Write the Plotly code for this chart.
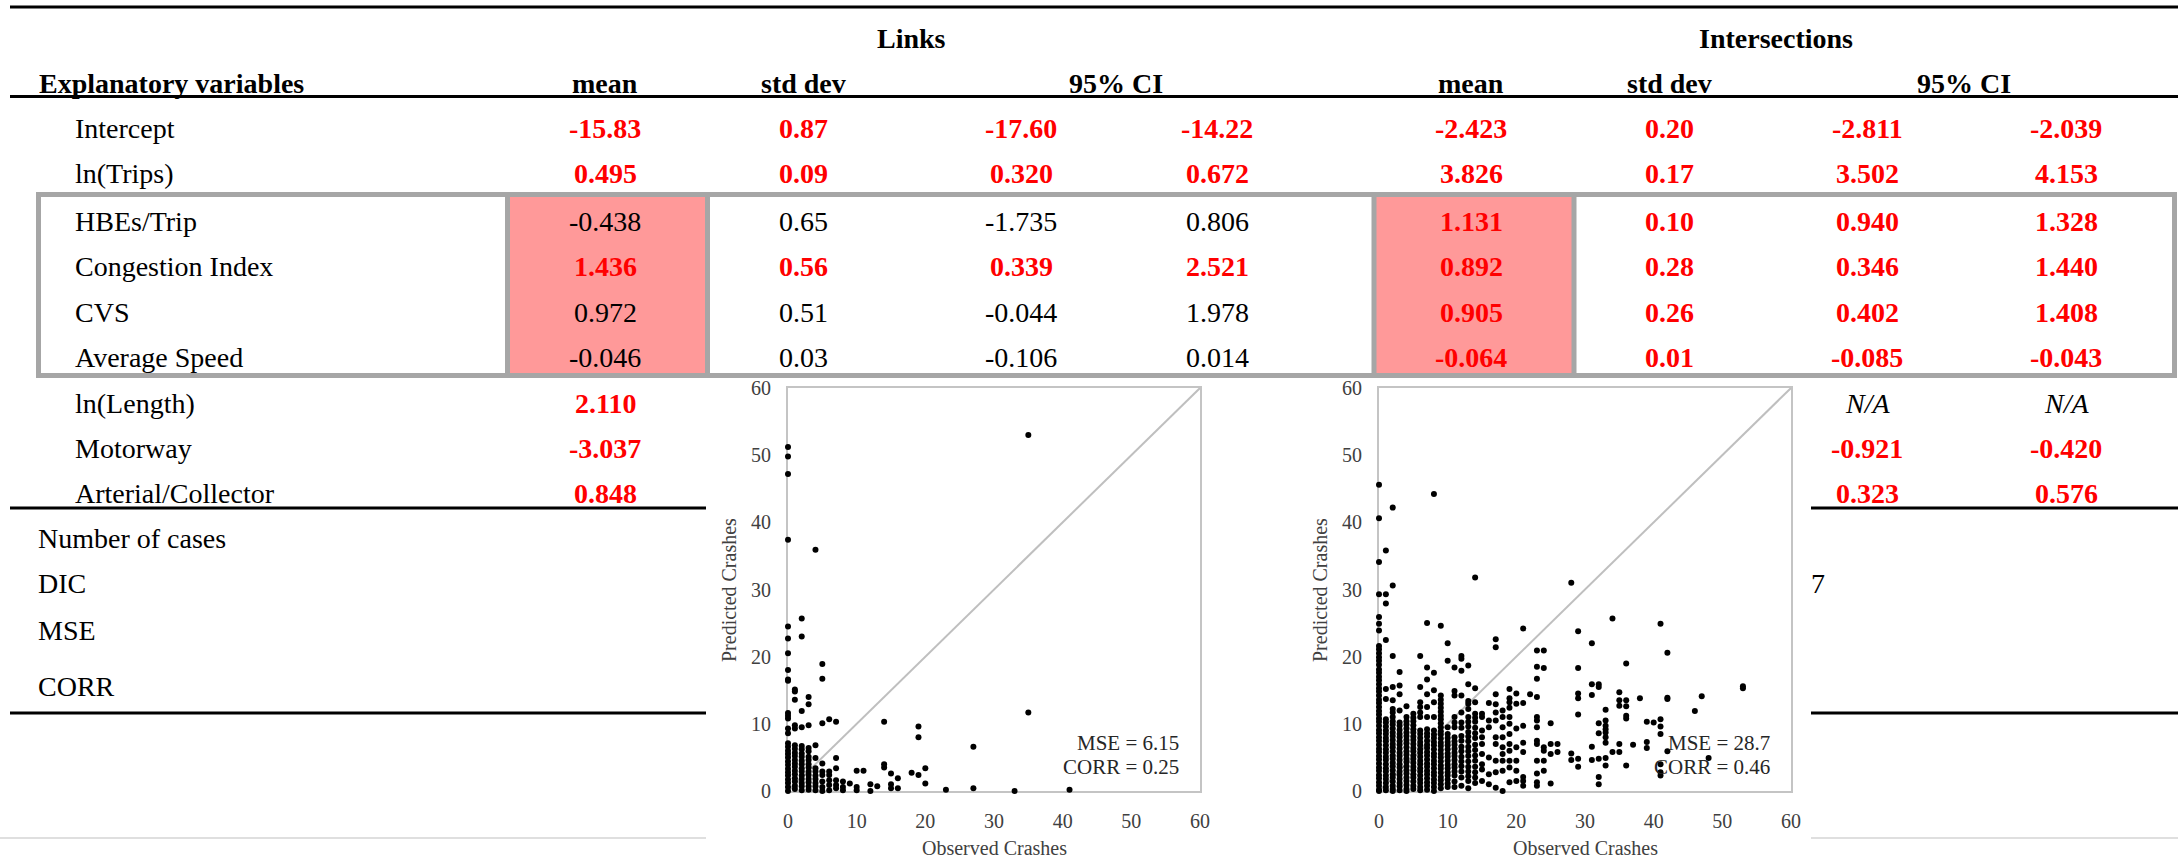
import plotly.graph_objects as go

# ---------------- table data ----------------
variables = ["Intercept", "ln(Trips)", "HBEs/Trip", "Congestion Index", "CVS",
             "Average Speed", "ln(Length)", "Motorway", "Arterial/Collector"]
summary_rows = ["Number of cases", "DIC", "MSE", "CORR"]
col_headers = ["mean", "std dev", "95% CI"]
group_headers = ["Links", "Intersections"]

# None = cell hidden behind the inset scatter plots in the source picture
links_mean = ["-15.83", "0.495", "-0.438", "1.436", "0.972", "-0.046", "2.110", "-3.037", "0.848"]
links_sd   = ["0.87", "0.09", "0.65", "0.56", "0.51", "0.03", None, None, None]
links_lo   = ["-17.60", "0.320", "-1.735", "0.339", "-0.044", "-0.106", None, None, None]
links_hi   = ["-14.22", "0.672", "0.806", "2.521", "1.978", "0.014", None, None, None]
links_sig  = [True, True, False, True, False, False, True, True, True]

inter_mean = ["-2.423", "3.826", "1.131", "0.892", "0.905", "-0.064", None, None, None]
inter_sd   = ["0.20", "0.17", "0.10", "0.28", "0.26", "0.01", None, None, None]
inter_lo   = ["-2.811", "3.502", "0.940", "0.346", "0.402", "-0.085", "N/A", "-0.921", "0.323"]
inter_hi   = ["-2.039", "4.153", "1.328", "1.440", "1.408", "-0.043", "N/A", "-0.420", "0.576"]
inter_sig  = [True, True, True, True, True, True, False, True, True]
inter_summary_visible = [None, "7", None, None]   # only last digit of DIC visible

# ---------------- inset scatter data (observed -> list of predicted) ----------------
links_pred_by_obs = {
    0: [51.2, 49.8, 47.2, 37.4, 24.5, 22.7, 20.5, 18.0, 16.6, 16.4, 11.6, 11.2, 10.8, 9.3, 8.6,
        7.1, 6.6, 6.0, 5.5, 5.0, 4.4, 3.9, 3.3, 2.8, 2.3, 1.7, 1.2, 0.6, 0.0],
    1: [15.1, 14.8, 13.6, 9.8, 9.3, 6.8, 6.3, 5.7, 5.2, 4.6, 4.1, 3.6, 3.0, 2.5, 1.9, 1.4, 0.8, 0.3],
    2: [25.7, 23.0, 11.9, 9.5, 6.7, 6.2, 5.6, 5.1, 4.5, 4.0, 3.4, 2.9, 2.3, 1.8, 1.2, 0.7, 0.1],
    3: [14.0, 12.9, 9.8, 6.4, 5.9, 5.1, 4.6, 4.0, 3.5, 2.9, 2.4, 1.8, 1.3, 0.7, 0.2],
    4: [35.9, 6.8, 4.9, 3.4, 2.9, 2.3, 1.8, 1.2, 0.7, 0.1],
    5: [18.9, 16.7, 10.1, 4.1, 2.9, 2.4, 1.4, 0.6, 0.0],
    6: [10.7, 2.9, 2.4, 1.6, 0.9, 0.1],
    7: [10.3, 4.9, 3.4, 1.6, 0.9, 0.4],
    8: [1.4, 0.6, 0.1],
    9: [1.1],
    10: [3.0, 0.6, 0.1],
    11: [3.0],
    12: [1.0, 0.0],
    13: [0.7],
    14: [10.3, 4.0, 3.5],
    15: [2.6, 1.0, 0.4],
    16: [1.9, 0.4],
    18: [2.7],
    19: [9.6, 8.0, 2.4],
    20: [3.4, 1.1],
    23: [0.2],
    27: [6.6, 0.4],
    33: [0.0],
    35: [53.0, 11.7],
    41: [0.2],
}

inter_pred_by_obs = {
    0: [45.6, 40.6, 34.1, 29.3, 25.9, 24.9, 23.9, 21.6, 21.1, 20.5, 19.9, 19.4, 18.8, 18.1, 17.6,
        17.0, 16.5, 15.9, 15.3, 14.8, 14.2, 13.6, 13.1, 12.5, 11.9, 11.4, 10.8, 10.3, 9.7, 9.1,
        8.6, 8.0, 7.5, 6.9, 6.3, 5.8, 5.2, 4.7, 4.1, 3.5, 3.0, 2.4, 1.9, 1.3, 0.8, 0.2, 0.0],
    1: [35.8, 29.3, 27.9, 22.5, 15.2, 13.7, 10.7, 10.2, 9.6, 9.0, 8.5, 7.9, 7.4, 6.8, 6.2, 5.7,
        5.1, 4.6, 4.0, 3.4, 2.9, 2.3, 1.8, 1.2, 0.6, 0.1],
    2: [42.2, 30.6, 20.1, 15.5, 13.5, 12.2, 11.7, 11.0, 10.4, 9.9, 9.3, 8.7, 8.2, 7.6, 7.0, 6.5,
        5.9, 5.3, 4.8, 4.2, 3.7, 3.1, 2.5, 2.0, 1.4, 0.8, 0.3, 0.0],
    3: [17.7, 15.7, 14.4, 12.0, 10.2, 9.7, 9.1, 8.5, 8.0, 7.4, 6.9, 6.3, 5.7, 5.2, 4.6, 4.0, 3.5,
        2.9, 2.4, 1.8, 1.2, 0.7, 0.1],
    4: [12.6, 11.0, 10.4, 9.9, 9.3, 8.7, 8.2, 7.6, 7.1, 6.5, 5.9, 5.4, 4.8, 4.3, 3.7, 3.1, 2.6,
        2.0, 1.5, 0.9, 0.3, 0.0],
    5: [11.5, 10.9, 10.4, 9.8, 9.2, 8.7, 8.1, 7.6, 7.0, 6.4, 5.9, 5.3, 4.8, 4.2, 3.6, 3.1, 2.5,
        2.0, 1.4, 0.8, 0.3],
    6: [20.1, 15.5, 13.2, 12.5, 11.7, 11.0, 9.0, 8.5, 7.9, 7.3, 6.8, 6.2, 5.7, 5.1, 4.5, 4.0, 3.4,
        2.9, 2.3, 1.7, 1.2, 0.6, 0.1],
    7: [25.0, 18.4, 16.6, 14.4, 12.5, 11.0, 9.2, 8.6, 8.1, 7.5, 6.9, 6.4, 5.8, 5.3, 4.7, 4.1, 3.6,
        3.0, 2.5, 1.9, 1.3, 0.8, 0.2],
    8: [44.2, 17.6, 15.0, 13.2, 11.0, 9.0, 8.4, 7.9, 7.3, 6.8, 6.2, 5.6, 5.1, 4.5, 4.0, 3.4, 2.8,
        2.3, 1.7, 1.2, 0.6, 0.0],
    9: [24.6, 14.2, 13.6, 13.0, 12.4, 11.8, 11.2, 10.7, 10.1, 9.5, 8.9, 8.4, 7.8, 7.2, 6.7, 6.1,
        5.5, 5.0, 4.4, 3.8, 3.3, 2.7, 2.1, 1.6, 1.0, 0.4],
    10: [22.0, 19.4, 9.5, 8.5, 7.9, 7.3, 6.8, 6.2, 5.6, 5.1, 4.5, 3.9, 3.4, 2.8, 2.3, 1.7, 1.1, 0.6],
    11: [18.4, 14.9, 14.2, 11.0, 10.2, 9.5, 8.0, 7.4, 6.9, 6.3, 5.7, 5.2, 4.6, 4.0, 3.5, 2.9, 2.3,
         1.4, 0.6],
    12: [20.1, 19.7, 17.9, 14.2, 11.7, 10.2, 9.4, 8.2, 7.5, 6.6, 5.9, 5.1, 4.4, 3.7, 2.9, 2.0, 0.8],
    13: [18.7, 15.9, 13.4, 13.0, 12.2, 11.0, 10.3, 9.6, 8.8, 8.1, 7.4, 6.6, 5.9, 5.2, 4.4, 3.6,
         2.9, 2.2, 1.5, 0.4],
    14: [31.8, 15.3, 13.2, 11.5, 10.9, 10.3, 9.4, 8.6, 7.9, 6.9, 6.1, 5.3, 4.5, 3.6, 2.8, 2.0, 1.2],
    15: [11.5, 11.0, 9.0, 8.0, 7.0, 5.5, 4.0, 3.2, 1.5],
    16: [13.1, 10.5, 9.5, 5.0, 2.5, 1.0],
    17: [22.6, 21.4, 14.4, 12.9, 11.7, 10.5, 8.0, 7.0, 4.5, 2.8, 0.5],
    18: [12.0, 11.0, 9.5, 8.0, 6.5, 5.5, 4.5, 3.0, 0.0],
    19: [15.2, 13.8, 13.2, 12.4, 11.0, 10.0, 8.5, 7.0, 6.0, 4.5, 3.5, 1.3],
    20: [14.5, 13.0, 9.3, 6.5, 4.5, 3.0, 1.5],
    21: [24.2, 13.1, 9.7, 7.2, 5.8, 2.1, 1.5, 0.8],
    22: [14.4],
    23: [20.9, 18.5, 16.7, 14.0, 11.0, 10.5, 9.5, 7.5, 7.0, 4.5, 2.6, 1.3, 0.8],
    24: [20.9, 18.3, 6.5, 6.0, 4.5, 3.0],
    25: [10.1, 7.0, 5.5, 1.1],
    26: [7.0, 5.8],
    28: [31.0, 5.6, 4.6],
    29: [23.8, 18.3, 14.5, 13.8, 11.4, 4.8, 3.6],
    31: [22.0, 15.9, 14.3, 6.6, 4.6],
    32: [15.9, 15.5, 10.1, 8.6, 4.8, 2.1, 1.0],
    33: [12.1, 10.5, 9.7, 9.2, 8.7, 8.0, 7.2, 4.9, 3.8],
    34: [25.7, 5.8],
    35: [14.7, 13.5, 12.7, 7.0, 5.8],
    36: [19.0, 13.5, 12.6, 11.2, 10.8, 3.8],
    37: [6.9],
    38: [13.8],
    39: [10.3, 7.3, 6.4],
    40: [10.2],
    41: [24.9, 10.7, 9.6, 8.5, 4.0, 2.8, 2.3],
    42: [20.6, 13.9, 13.7, 5.9],
    46: [11.9],
    47: [14.1],
    48: [4.9],
    53: [15.6, 15.3],
}
links_stats = ["MSE = 6.15", "CORR = 0.25"]
inter_stats = ["MSE = 28.7", "CORR = 0.46"]
axis_range = [0, 60]
axis_ticks = [0, 10, 20, 30, 40, 50, 60]

# ---------------- layout constants (pixels) ----------------
W, H = 2178, 858
SERIF = "Liberation Serif, Times New Roman, serif"
FS = 28
RED = "#FF0000"
PINK = "#FF9999"
BOXGRAY = "#A6A6A6"

row_y = [128.5, 173.5, 221, 266, 312, 357, 403.5, 448.5, 493.5]
summary_y = [538.5, 583.5, 630.5, 686.5]
header_y = 83
group_y = 38
links_cols = [605, 803, 1021, 1217]
inter_cols = [1471, 1669, 1867, 2066]
label_x = 74
summary_x = 37

plot1_px = (788, 1200)
plot2_px = (1379, 1791)
plot_py = (388, 791)

fig = go.Figure()

def flat(d):
    xs, ys = [], []
    for k, vals in d.items():
        for v in vals:
            xs.append(k)
            ys.append(v)
    return xs, ys

for dct, ax in [(links_pred_by_obs, ""), (inter_pred_by_obs, "2")]:
    fig.add_trace(go.Scatter(x=axis_range, y=axis_range, mode="lines",
                             line=dict(color="#BFBFBF", width=2),
                             xaxis="x" + ax, yaxis="y" + ax, showlegend=False, hoverinfo="skip"))
    xs, ys = flat(dct)
    fig.add_trace(go.Scatter(x=xs, y=ys, mode="markers", cliponaxis=False,
                             marker=dict(color="black", size=6),
                             xaxis="x" + ax, yaxis="y" + ax, showlegend=False))

# hidden pixel axis for table
fig.add_trace(go.Scatter(x=[0], y=[0], mode="markers", marker=dict(opacity=0),
                         xaxis="x3", yaxis="y3", showlegend=False, hoverinfo="skip"))

shapes = []
def line(x0, y0, x1, y1, color="black", width=3):
    shapes.append(dict(type="line", xref="x3", yref="y3", x0=x0, y0=y0, x1=x1, y1=y1,
                       line=dict(color=color, width=width), layer="below"))

def rect(x0, y0, x1, y1, fill=None, color=None, width=0):
    shapes.append(dict(type="rect", xref="x3", yref="y3", x0=x0, y0=y0, x1=x1, y1=y1,
                       fillcolor=fill if fill else "rgba(0,0,0,0)",
                       line=dict(color=color if color else "rgba(0,0,0,0)", width=width),
                       layer="below"))

rect(509, 196, 706, 374, fill=PINK)
rect(1375, 196, 1572, 374, fill=PINK)
rect(38.5, 194.5, 2174.5, 375.5, color=BOXGRAY, width=5)
for vx in [507.5, 707.5, 1374, 1574]:
    line(vx, 194.5, vx, 375.5, color=BOXGRAY, width=5)
line(10, 7, W, 7)
line(10, 96.5, W, 96.5)
for yy in [508, 713]:
    line(10, yy, 706, yy)
    line(1811, yy, W, yy)
line(0, 838, 706, 838, color="#D4D4D4", width=1.5)
line(1811, 838, W, 838, color="#D4D4D4", width=1.5)

ann = []
def text(x, y, s, color="black", size=FS, anchor="center", angle=0):
    ann.append(dict(x=x, y=y, xref="x3", yref="y3", text=s, showarrow=False,
                    xanchor=anchor, yanchor="middle", textangle=angle, borderpad=0,
                    font=dict(family=SERIF, size=size, color=color)))

text((links_cols[0] + links_cols[3]) / 2, group_y, "<b>%s</b>" % group_headers[0])
text(1776, group_y, "<b>%s</b>" % group_headers[1])
text(38, header_y, "<b>Explanatory variables</b>", anchor="left")
for cols in (links_cols, inter_cols):
    text(cols[0], header_y, "<b>%s</b>" % col_headers[0])
    text(cols[1], header_y, "<b>%s</b>" % col_headers[1])
    text((cols[2] + cols[3]) / 2 - 3, header_y, "<b>%s</b>" % col_headers[2])

def cell(v, sig):
    if v == "N/A":
        return "<i>N/A</i>", "black"
    if sig:
        return "<b>%s</b>" % v, RED
    return v, "black"

for i, var in enumerate(variables):
    text(label_x, row_y[i], var, anchor="left")
    for cols, vals, sig in ((links_cols, [links_mean, links_sd, links_lo, links_hi], links_sig),
                            (inter_cols, [inter_mean, inter_sd, inter_lo, inter_hi], inter_sig)):
        for c, arr in zip(cols, vals):
            if arr[i] is None:
                continue
            s, col = cell(arr[i], sig[i])
            text(c, row_y[i], s, color=col)

for i, lab in enumerate(summary_rows):
    text(summary_x, summary_y[i], lab, anchor="left")
    if inter_summary_visible[i]:
        text(1810, summary_y[i], inter_summary_visible[i], anchor="left")

TICKC = "#404040"
for (px0, px1), stats in ((plot1_px, links_stats), (plot2_px, inter_stats)):
    text((px0 + px1) / 2, 848, "Observed Crashes", color=TICKC, size=20)
    text(px0 - 59, 590, "Predicted Crashes", color=TICKC, size=20, angle=-90)
    text(px1 - 20, 743, stats[0], color="#262626", size=21, anchor="right")
    text(px1 - 20, 767, stats[1], color="#262626", size=21, anchor="right")

def dom(a, b, total, flip=False):
    if flip:
        return [(total - b) / total, (total - a) / total]
    return [a / total, b / total]

axis_common = dict(range=axis_range, tickvals=axis_ticks, showgrid=False, zeroline=False,
                   showline=True, mirror=True, linecolor="#C4C4C4", linewidth=2,
                   layer="below traces",
                   ticks="outside", ticklen=11, tickcolor="rgba(0,0,0,0)",
                   tickfont=dict(family=SERIF, size=20, color=TICKC), fixedrange=True)

fig.update_layout(
    width=W, height=H, margin=dict(l=0, r=0, t=0, b=0, autoexpand=False),
    paper_bgcolor="white", plot_bgcolor="rgba(0,0,0,0)",
    showlegend=False,
    xaxis=dict(domain=dom(*plot1_px, W), anchor="y", **axis_common),
    yaxis=dict(domain=dom(*plot_py, H, flip=True), anchor="x", **axis_common),
    xaxis2=dict(domain=dom(*plot2_px, W), anchor="y2", **axis_common),
    yaxis2=dict(domain=dom(*plot_py, H, flip=True), anchor="x2", **axis_common),
    xaxis3=dict(domain=[0, 1], range=[0, W], visible=False, anchor="y3", fixedrange=True),
    yaxis3=dict(domain=[0, 1], range=[H, 0], visible=False, anchor="x3", fixedrange=True),
    shapes=shapes, annotations=ann,
)

fig.write_html("out.html", config={"displayModeBar": False},
               post_script="document.body.style.margin='0';document.body.style.padding='0';"
                           "document.documentElement.style.overflow='hidden';")
